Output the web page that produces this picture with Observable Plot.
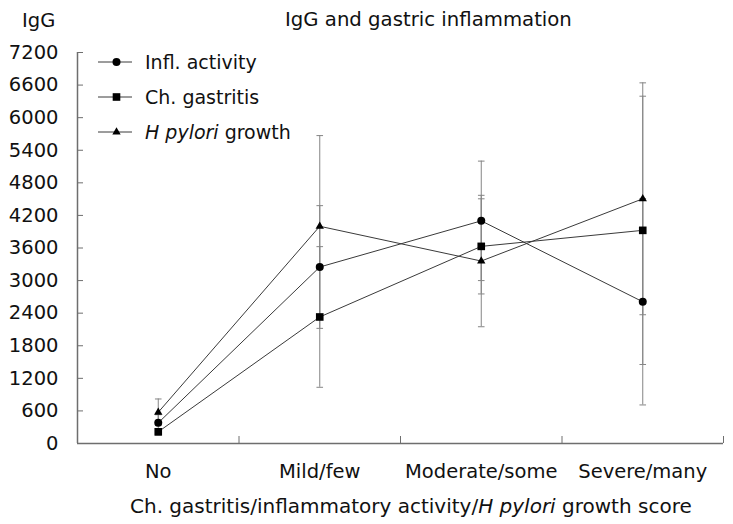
<!DOCTYPE html>
<html>
<head>
<meta charset="utf-8">
<script src="https://cdn.jsdelivr.net/npm/d3@7"></script>
<script src="https://cdn.jsdelivr.net/npm/@observablehq/plot@0.6"></script>
<style>
  html, body { margin: 0; padding: 0; background: #fff; }
  #wrap { position: relative; width: 733px; height: 524px; font-family: "DejaVu Sans", sans-serif; color: #111; }
  #wrap svg.plot { position: absolute; left: 0; top: 0; }
  .txt { position: absolute; white-space: nowrap; line-height: 1; }
  .leg { position: absolute; left: 98px; height: 20px; display: flex; align-items: center; }
  .leg span { margin-left: 13px; font-size: 19px; line-height: 1; }
</style>
</head>
<body>
<div id="wrap"></div>
<script>
// ---- data ----
const categories = ["No", "Mild/few", "Moderate/some", "Severe/many"];
const seriesNames = ["Infl. activity", "Ch. gastritis", "H pylori growth"];
const inflActivity     = [380, 3250, 4100, 2610];
const inflActivityErr  = [150, 1130, 1100, 1900];
const chGastritis      = [215, 2330, 3630, 3925];
const chGastritisErr   = [60, 1295, 876, 2470];
const hPyloriGrowth    = [575, 4000, 3360, 4506];
const hPyloriGrowthErr = [245, 1670, 1210, 2135];
const yTicks = [0, 600, 1200, 1800, 2400, 3000, 3600, 4200, 4800, 5400, 6000, 6600, 7200];

const seriesDefs = [
  {name: seriesNames[0], values: inflActivity,  errors: inflActivityErr,  symbol: "circle",   r: 4.0},
  {name: seriesNames[1], values: chGastritis,   errors: chGastritisErr,   symbol: "square",   r: 4.3},
  {name: seriesNames[2], values: hPyloriGrowth, errors: hPyloriGrowthErr, symbol: "triangle", r: 3.1}
];

const rows = [];
seriesDefs.forEach(s => categories.forEach((c, i) =>
  rows.push({series: s.name, i, value: s.values[i], err: s.errors[i]})));
const caps = rows.flatMap(d => [{series: d.series, i: d.i, y: d.value - d.err}, {series: d.series, i: d.i, y: d.value + d.err}]);

const capSymbol = {draw(ctx, size) { const w = Math.sqrt(size / Math.PI); ctx.moveTo(-w, 0); ctx.lineTo(w, 0); }};
const axisColor = "#6e6e6e";
const errColor = "#858585";
const lineColor = "#3a3a3a";

const chart = Plot.plot({
  width: 733,
  height: 524,
  marginLeft: 77,
  marginRight: 10,
  marginTop: 52,
  marginBottom: 81,
  style: {fontFamily: "DejaVu Sans, sans-serif", fontSize: "19.5px", color: "#111", background: "transparent"},
  x: {type: "linear", domain: [-0.5, categories.length - 0.5]},
  y: {domain: [0, 7200]},
  marks: [
    // error bars
    Plot.ruleX(rows, {x: "i", y1: d => d.value - d.err, y2: d => d.value + d.err, stroke: errColor, strokeWidth: 1}),
    Plot.dot(caps, {x: "i", y: "y", symbol: capSymbol, r: 3.3, stroke: errColor, strokeWidth: 1, fill: "none"}),
    // lines
    Plot.line(rows, {x: "i", y: "value", z: "series", stroke: lineColor, strokeWidth: 1}),
    // markers
    ...seriesDefs.map(s => Plot.dot(rows.filter(d => d.series === s.name),
      {x: "i", y: "value", symbol: s.symbol, r: s.r, fill: "#000", stroke: "none"})),
    // axis lines
    Plot.ruleY([0], {stroke: axisColor, strokeWidth: 1.5}),
    Plot.ruleX([-0.5], {y1: 0, y2: 7200, stroke: axisColor, strokeWidth: 1.5}),
    // y axis: inward ticks + labels
    Plot.axisY({ticks: yTicks, tickSize: -6, tickPadding: 25, stroke: axisColor, fill: "#111", label: null, tickFormat: d => String(d)}),
    // x axis: inward ticks at category boundaries
    Plot.axisX({ticks: [0.5, 1.5, 2.5, 3.5], tickSize: -7, stroke: axisColor, label: null, tickFormat: () => ""}),
    // x axis labels at category centers
    Plot.axisX({ticks: categories.map((c, i) => i), tickSize: 0, tickPadding: 21, fill: "#111", label: null, tickFormat: i => categories[i]})
  ]
});
chart.classList.add("plot");
const wrap = document.getElementById("wrap");
wrap.appendChild(chart);

// titles
function addText(html, left, top, size) {
  const d = document.createElement("div");
  d.className = "txt";
  d.innerHTML = html;
  d.style.left = left + "px";
  d.style.top = top + "px";
  d.style.fontSize = size + "px";
  wrap.appendChild(d);
}
addText("IgG and gastric inflammation", 285, 10, 19.7);
addText("IgG", 22, 11, 19.5);
addText("Ch. gastritis/inflammatory activity/<i>H pylori</i> growth score", 130, 496, 20);

// legend
const legendLabels = ["Infl. activity", "Ch. gastritis", "<i>H pylori</i> growth"];
const legendCenters = [62, 97, 132];
seriesDefs.forEach((s, k) => {
  const row = document.createElement("div");
  row.className = "leg";
  row.style.top = (legendCenters[k] - 10) + "px";
  const sym = {circle: d3.symbolCircle, square: d3.symbolSquare, triangle: d3.symbolTriangle}[s.symbol];
  const path = d3.symbol(sym, Math.PI * s.r * s.r)();
  row.innerHTML = `<svg width="34" height="20" style="display:block">
      <line x1="0" x2="34" y1="10" y2="10" stroke="${lineColor}" stroke-width="1"/>
      <path d="${path}" transform="translate(18.5,10)" fill="#000"/>
    </svg><span>${legendLabels[k]}</span>`;
  wrap.appendChild(row);
});
</script>
</body>
</html>
